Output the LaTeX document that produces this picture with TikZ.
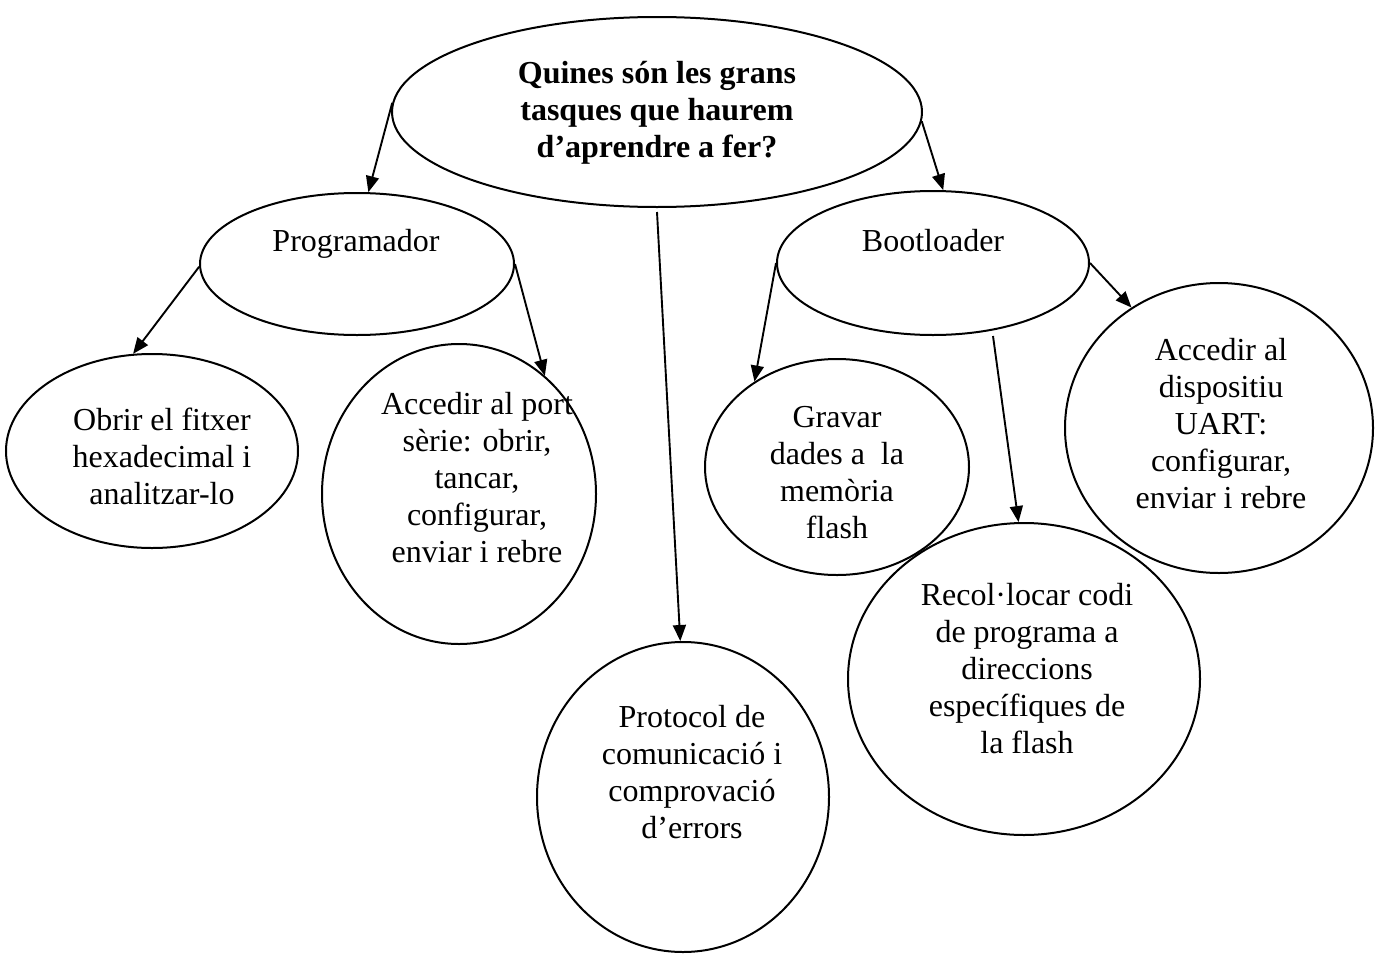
\documentclass[tikz,border=0pt]{standalone}
\usepackage{fontspec}
\setmainfont{Liberation Serif}
\usetikzlibrary{shapes.geometric,arrows.meta}
\begin{document}
\begin{tikzpicture}[x=1pt,y=-1pt,
  oval/.style={ellipse, draw, line width=2pt, inner sep=0pt},
  txt/.style={font=\fontsize{32}{37}\selectfont, align=center, inner sep=0pt, anchor=north},
  link/.style={-{Triangle[length=16pt,width=13pt]}, line width=1.9pt}]
\fill[white] (0,0) rectangle (1381,953);
\useasboundingbox (0,0) rectangle (1381,953);

% ellipses
\node[oval, minimum width=530pt, minimum height=190pt] (top)  at (657,112) {};
\node[oval, minimum width=314pt, minimum height=142pt] (prog) at (357,264) {};
\node[oval, minimum width=312pt, minimum height=144pt] (boot) at (933,263) {};
\node[oval, minimum width=292pt, minimum height=194pt] (obrir) at (152,451) {};
\node[oval, minimum width=274pt, minimum height=300pt] (port) at (459,494) {};
\node[oval, minimum width=264pt, minimum height=216pt] (gravar) at (837,467) {};
\node[oval, minimum width=292pt, minimum height=310pt] (proto) at (683,797) {};
\node[oval, minimum width=308pt, minimum height=290pt] (uart) at (1219,428) {};
\node[oval, minimum width=352pt, minimum height=312pt] (recol) at (1024,679) {};

% texts
\node[txt] (toptext) at (657,57.1) {\bfseries\strut Quines són les grans\\\bfseries tasques que haurem\\\bfseries d’aprendre a fer?};
\node[txt] (progtext) at (356,225.1) {\strut Programador};
\node[txt] (boottext) at (933,225.1) {\strut Bootloader};
\node[txt] (obrirtext) at (162,404.1) {\strut Obrir el fitxer\\hexadecimal i\\analitzar-lo};
\node[txt] (porttext) at (477,388.1) {\strut Accedir al port\\sèrie: obrir,\\tancar,\\configurar,\\enviar i rebre};
\node[txt] (gravartext) at (837,401.1) {\strut Gravar\\dades a~ la\\memòria\\flash};
\node[txt] (prototext) at (692,701.1) {\strut Protocol de\\comunicació i\\comprovació\\d’errors};
\node[txt] (uarttext) at (1221,334.1) {\strut Accedir al\\dispositiu\\UART:\\configurar,\\enviar i rebre};
\node[txt] (recoltext) at (1027,579.1) {\strut Recol·locar codi\\de programa a\\direccions\\específiques de\\la flash};

% connectors
\draw[link] (top.178.9) -- (prog.81.4);
\draw[link] (top.358.3) -- (boot.82.1);
\draw[link] ([yshift=-4pt]top.south) -- (proto.91);
\draw[link] (prog.181.5) -- (obrir.101.3);
\draw[link] (prog.east) -- (port.54.4);
\draw[link] (boot.west) -- (gravar.134.7);
\draw[link] ([shift={(60,73)}]boot.center) -- (recol.92.9);
\draw[link] (boot.east) -- (uart.126.7);
\end{tikzpicture}
\end{document}
